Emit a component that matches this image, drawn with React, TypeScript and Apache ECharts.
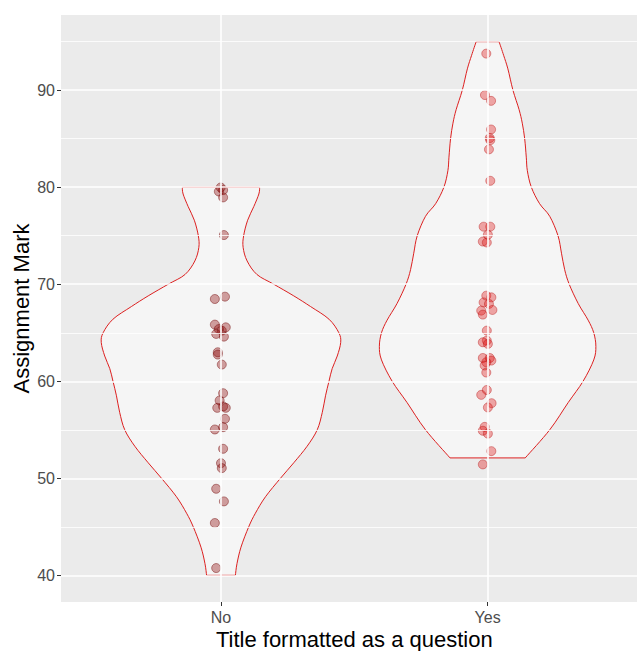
import React, { useEffect, useRef } from "react";
import * as echarts from "echarts";

const categories = ["No", "Yes"];
const yMajorTicks = [40, 50, 60, 70, 80, 90];
const yMinorLines = [45, 55, 65, 75, 85, 95];
const xTicks = [1, 2];

// Violin outline (value, half-width in category units), bottom to top
const noViolinY = [40.0, 41.2, 42.9, 45.0, 46.4, 48.1, 50.0, 51.6, 53.3, 55.0, 56.8, 58.5, 60.0, 61.3, 62.6, 64.0, 65.0, 66.4, 67.7, 68.8, 70.0, 71.0, 72.4, 73.8, 75.0, 76.6, 78.0, 79.3, 80.0];
const noViolinW = [0.054, 0.060, 0.075, 0.104, 0.129, 0.167, 0.223, 0.273, 0.323, 0.361, 0.380, 0.392, 0.405, 0.417, 0.436, 0.449, 0.442, 0.405, 0.336, 0.273, 0.198, 0.135, 0.098, 0.083, 0.085, 0.100, 0.123, 0.142, 0.145];
const yesViolinY = [52.1, 55.0, 57.8, 60.0, 62.2, 63.6, 65.0, 66.3, 68.0, 70.0, 71.5, 73.2, 75.0, 77.0, 78.3, 80.0, 81.7, 83.1, 85.0, 86.6, 88.0, 90.0, 92.2, 93.6, 95.0];
const yesViolinW = [0.141, 0.233, 0.302, 0.358, 0.398, 0.406, 0.398, 0.377, 0.340, 0.306, 0.289, 0.277, 0.264, 0.233, 0.195, 0.164, 0.149, 0.145, 0.139, 0.130, 0.118, 0.095, 0.076, 0.060, 0.043];

// Points: marks and horizontal jitter (category units)
const noMarks = [79.97, 79.7, 79.56, 78.95, 75.07, 68.48, 68.72, 65.84, 65.38, 65.22, 65.56, 64.88, 64.6, 62.99, 62.75, 61.72, 58.77, 58.02, 57.26, 57.4, 57.26, 56.13, 55.03, 55.27, 53.04, 51.56, 51.05, 48.92, 47.62, 45.39, 40.75];
const noJitter = [-0.001, 0.008, -0.008, 0.008, 0.011, -0.023, 0.015, -0.023, -0.008, 0.003, 0.018, -0.018, 0.011, -0.012, -0.012, 0.003, 0.008, -0.005, -0.014, 0.008, 0.018, 0.015, -0.023, 0.008, 0.008, 0, 0.003, -0.018, 0.011, -0.023, -0.018];
const yesMarks = [93.77, 89.5, 88.9, 85.95, 85.06, 84.85, 83.9, 80.66, 75.93, 75.93, 75.1, 74.4, 74.3, 68.82, 68.65, 68.13, 67.97, 67.28, 67.35, 66.87, 65.22, 64.19, 64.02, 63.85, 62.4, 62.4, 62.13, 61.96, 61.62, 60.9, 59.1, 58.6, 57.74, 57.3, 55.3, 54.9, 54.6, 52.8, 51.43];
const yesJitter = [-0.005, -0.01, 0.013, 0.013, 0.008, 0.01, 0.005, 0.01, -0.015, 0.01, 0.001, -0.018, -0.003, -0.005, 0.014, -0.015, 0.005, -0.024, 0.018, -0.018, -0.003, -0.003, -0.018, 0.001, -0.018, 0.008, 0.014, -0.005, -0.011, -0.005, -0.003, -0.024, 0.015, 0.001, -0.011, -0.018, 0.001, 0.014, -0.018];

const FONT = "'Liberation Sans', Arial, sans-serif";

// Catmull-Rom smoothed path through pixel points (rendering only)
function smoothSegments(pts: number[][]): string {
  let d = "";
  for (let i = 0; i < pts.length - 1; i++) {
    const p0 = pts[i - 1] || pts[i];
    const p1 = pts[i];
    const p2 = pts[i + 1];
    const p3 = pts[i + 2] || pts[i + 1];
    const c1x = p1[0] + (p2[0] - p0[0]) / 6;
    const c1y = p1[1] + (p2[1] - p0[1]) / 6;
    const c2x = p2[0] - (p3[0] - p1[0]) / 6;
    const c2y = p2[1] - (p3[1] - p1[1]) / 6;
    d += ` C ${c1x} ${c1y} ${c2x} ${c2y} ${p2[0]} ${p2[1]}`;
  }
  return d;
}

export default function App() {
  const ref = useRef<HTMLDivElement>(null);
  useEffect(() => {
    if (!ref.current) return;
    const chart = echarts.init(ref.current, undefined, { renderer: "svg" });
    const profiles = [
      { y: noViolinY, w: noViolinW },
      { y: yesViolinY, w: yesViolinW },
    ];
    const gridLine = (w: number) => ({ color: "#ffffff", width: w, type: "solid" as const });
    const option: any = {
      animation: false,
      backgroundColor: "#ffffff",
      grid: {
        left: 61,
        top: 15,
        right: -10.6,
        bottom: 49,
        show: true,
        backgroundColor: "#EBEBEB",
        borderWidth: 0,
        outerBoundsMode: "none",
        containLabel: false,
      },
      xAxis: {
        type: "value",
        min: 0.4,
        max: 2.6,
        splitLine: { show: false },
        axisLine: { show: false },
        axisTick: { show: true, customValues: xTicks, length: 4, lineStyle: { color: "#333333", width: 1 } },
        axisLabel: {
          customValues: xTicks,
          formatter: (v: number) => categories[Math.round(v) - 1] ?? "",
          color: "#4D4D4D",
          fontSize: 16,
          fontFamily: FONT,
          margin: 7,
        },
        name: "Title formatted as a question",
        nameLocation: "middle",
        nameGap: 26,
        nameMoveOverlap: false,
        nameTextStyle: { color: "#000000", fontSize: 22, lineHeight: 22, fontFamily: FONT },
      },
      yAxis: {
        type: "value",
        min: 37.25,
        max: 97.75,
        splitLine: { show: false },
        axisLine: { show: false },
        axisTick: { show: true, customValues: yMajorTicks, length: 4, lineStyle: { color: "#333333", width: 1 } },
        axisLabel: {
          customValues: yMajorTicks,
          color: "#4D4D4D",
          fontSize: 16,
          fontFamily: FONT,
          margin: 6,
        },
        name: "Assignment Mark",
        nameLocation: "middle",
        nameGap: 29,
        nameMoveOverlap: false,
        nameTextStyle: { color: "#000000", fontSize: 22, lineHeight: 22, fontFamily: FONT },
      },
      series: [
        {
          type: "line",
          data: [],
          z: 1,
          silent: true,
          markLine: {
            silent: true,
            symbol: "none",
            animation: false,
            label: { show: false },
            emphasis: { disabled: true },
            data: [
              ...yMinorLines.map((v) => ({ yAxis: v, lineStyle: gridLine(0.8) })),
              ...yMajorTicks.map((v) => ({ yAxis: v, lineStyle: gridLine(1.6) })),
              ...xTicks.map((v) => ({ xAxis: v, lineStyle: gridLine(1.6) })),
            ],
          },
        },
        {
          type: "custom",
          z: 2,
          silent: true,
          data: [[1], [2]],
          renderItem: (params: any, api: any) => {
            const idx = params.dataIndex;
            const g = idx + 1;
            const p = profiles[idx];
            const right: number[][] = [];
            const left: number[][] = [];
            for (let i = 0; i < p.y.length; i++) right.push(api.coord([g + p.w[i], p.y[i]]));
            for (let i = p.y.length - 1; i >= 0; i--) left.push(api.coord([g - p.w[i], p.y[i]]));
            let d = `M ${right[0][0]} ${right[0][1]}`;
            d += smoothSegments(right);
            d += ` L ${left[0][0]} ${left[0][1]}`;
            d += smoothSegments(left);
            d += " Z";
            return {
              type: "path",
              shape: { pathData: d },
              style: { fill: "rgba(255,255,255,0.5)", stroke: "#dd2020", lineWidth: 1 },
            };
          },
        },
        {
          type: "scatter",
          z: 3,
          symbolSize: 9,
          data: noMarks.map((v, i) => [1 + noJitter[i], v]),
          itemStyle: { color: "rgba(139,0,0,0.45)", borderColor: "rgba(110,0,0,0.55)", borderWidth: 1 },
        },
        {
          type: "scatter",
          z: 3,
          symbolSize: 9,
          data: yesMarks.map((v, i) => [2 + yesJitter[i], v]),
          itemStyle: { color: "rgba(225,20,20,0.45)", borderColor: "rgba(180,10,10,0.5)", borderWidth: 1 },
        },
      ],
    };
    chart.setOption(option);
    return () => chart.dispose();
  }, []);
  return (
    <div
      ref={ref}
      style={{ position: "fixed", left: 0, top: 0, width: 637, height: 651 }}
    />
  );
}
